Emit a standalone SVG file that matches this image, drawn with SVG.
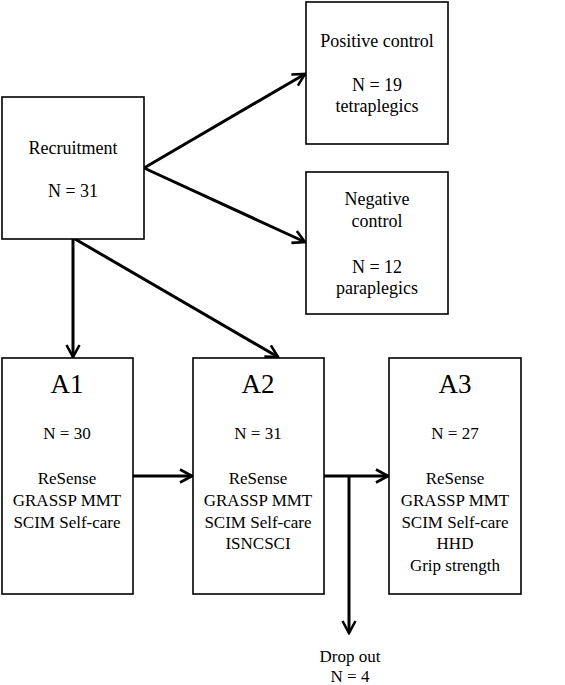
<svg xmlns="http://www.w3.org/2000/svg" width="565" height="685" viewBox="0 0 565 685">
<defs>
<marker id="arr" viewBox="0 0 16 16" refX="14" refY="8" markerWidth="16" markerHeight="16" markerUnits="userSpaceOnUse" orient="auto">
<path d="M2,1.5 L14,8 L2,14.5" fill="none" stroke="#000" stroke-width="2.6"/>
</marker>
<style>
.box{fill:#fff;stroke:#000;stroke-width:1.6}
.t{font-family:"Liberation Serif",serif;font-size:18px;text-anchor:middle;fill:#000}
.s{font-family:"Liberation Serif",serif;font-size:17px;text-anchor:middle;fill:#000}
.big{font-family:"Liberation Serif",serif;font-size:27px;text-anchor:middle;fill:#000}
.c{fill:none;stroke:#000;stroke-width:3;marker-end:url(#arr)}
</style>
</defs>
<g id="connectors">
<line class="c" x1="144" y1="168" x2="305" y2="74"/>
<line class="c" x1="144" y1="168" x2="305" y2="242"/>
<line class="c" x1="73" y1="239" x2="73" y2="357"/>
<line class="c" x1="75" y1="239" x2="278" y2="357"/>
<line class="c" x1="133" y1="476" x2="192" y2="476"/>
<line class="c" x1="324" y1="476" x2="388" y2="476"/>
<line class="c" x1="349" y1="476" x2="349" y2="633"/>
</g>
<g id="recruitment">
<rect class="box" x="2" y="97" width="142" height="142"/>
<text class="t" x="73" y="154">Recruitment</text>
<text class="t" x="73" y="197">N = 31</text>
</g>
<g id="positive">
<rect class="box" x="306" y="2" width="142" height="142"/>
<text class="t" x="377" y="47">Positive control</text>
<text class="t" x="377" y="91">N = 19</text>
<text class="t" x="377" y="112">tetraplegics</text>
</g>
<g id="negative">
<rect class="box" x="306" y="172" width="142" height="142"/>
<text class="t" x="377" y="205">Negative</text>
<text class="t" x="377" y="227">control</text>
<text class="t" x="377" y="273">N = 12</text>
<text class="t" x="377" y="294">paraplegics</text>
</g>
<g id="a1">
<rect class="box" x="2" y="358" width="131" height="236"/>
<text class="big" x="67" y="393">A1</text>
<text class="s" x="67" y="439">N = 30</text>
<text class="s" x="67" y="484">ReSense</text>
<text class="s" x="67" y="506">GRASSP MMT</text>
<text class="s" x="67" y="528">SCIM Self-care</text>
</g>
<g id="a2">
<rect class="box" x="193" y="358" width="131" height="236"/>
<text class="big" x="258" y="393">A2</text>
<text class="s" x="258" y="439">N = 31</text>
<text class="s" x="258" y="484">ReSense</text>
<text class="s" x="258" y="506">GRASSP MMT</text>
<text class="s" x="258" y="528">SCIM Self-care</text>
<text class="s" x="258" y="549">ISNCSCI</text>
</g>
<g id="a3">
<rect class="box" x="389" y="358" width="132" height="236"/>
<text class="big" x="455" y="393">A3</text>
<text class="s" x="455" y="439">N = 27</text>
<text class="s" x="455" y="484">ReSense</text>
<text class="s" x="455" y="506">GRASSP MMT</text>
<text class="s" x="455" y="528">SCIM Self-care</text>
<text class="s" x="455" y="549">HHD</text>
<text class="s" x="455" y="571">Grip strength</text>
</g>
<g id="dropout">
<text class="s" x="350" y="662">Drop out</text>
<text class="s" x="350" y="682">N = 4</text>
</g>
</svg>
